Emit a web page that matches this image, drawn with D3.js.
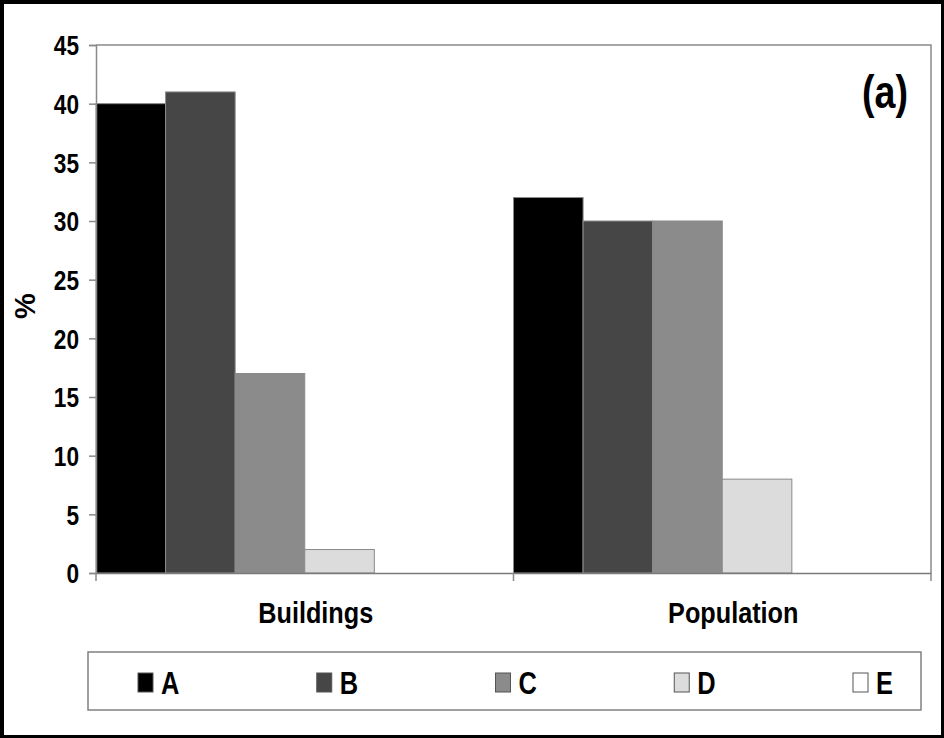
<!DOCTYPE html>
<html>
<head>
<meta charset="utf-8">
<script src="https://cdn.jsdelivr.net/npm/d3@7"></script>
<style>
  html, body { margin: 0; padding: 0; background: #000; }
  svg { display: block; }
  text { font-family: "Liberation Sans", Arial, Helvetica, sans-serif; font-weight: bold; fill: #000; }
</style>
</head>
<body>
<svg id="chart" width="944" height="738"></svg>
<script>
// Share of buildings and population per class (%)
const categories = ["Buildings", "Population"];
const seriesNames = ["A", "B", "C", "D", "E"];
const buildingsValues = [40, 41, 17, 2, 0];
const populationValues = [32, 30, 30, 8, 0];
const yTickValues = [0, 5, 10, 15, 20, 25, 30, 35, 40, 45];
const yAxisLabel = "%";
const panelLabel = "(a)";

const valuesByCategory = { Buildings: buildingsValues, Population: populationValues };
const fills = { A: "#000000", B: "#464646", C: "#8b8b8b", D: "#dcdcdc", E: "#ffffff" };

const W = 944, H = 738;
const plot = { left: 96, right: 931, top: 45, bottom: 573 };
const sx = 0.84; // condensed lettering

const svg = d3.select("#chart");

// black outer frame with white page
svg.append("rect").attr("x", 0).attr("y", 0).attr("width", W).attr("height", H).attr("fill", "#000");
svg.append("rect").attr("x", 4).attr("y", 4).attr("width", 937).attr("height", 731).attr("fill", "#fff");

const y = d3.scaleLinear().domain([0, 45]).range([plot.bottom, plot.top]);
const x = d3.scaleBand().domain(categories).range([plot.left, plot.right]).padding(0);
const xs = d3.scaleBand().domain(seriesNames).range([0, x.bandwidth() * 5 / 6]).padding(0);

// plot area frame (top and right edges)
svg.append("path")
  .attr("d", `M${plot.left},${plot.top}H${plot.right}V${plot.bottom}`)
  .attr("fill", "none").attr("stroke", "#8a8a8a").attr("stroke-width", 1.5);

// bars
const rows = categories.flatMap(c => seriesNames.map((s, i) => ({ cat: c, series: s, value: valuesByCategory[c][i] })));
svg.append("g").selectAll("rect").data(rows.filter(d => d.value > 0)).join("rect")
  .attr("x", d => x(d.cat) + xs(d.series))
  .attr("y", d => y(d.value))
  .attr("width", xs.bandwidth())
  .attr("height", d => y(0) - y(d.value))
  .attr("fill", d => fills[d.series])
  .attr("stroke", "#8a8a8a").attr("stroke-width", 1);

// y axis
const yAxis = svg.append("g").attr("transform", `translate(${plot.left},0)`)
  .call(d3.axisLeft(y).tickValues(yTickValues).tickSize(7).tickPadding(0));
yAxis.select(".domain").attr("stroke", "#8a8a8a").attr("stroke-width", 1.5);
yAxis.selectAll(".tick line").attr("stroke", "#8a8a8a").attr("stroke-width", 1.5);
yAxis.selectAll(".tick text")
  .attr("x", -17 / sx).attr("dy", "0.36em")
  .attr("transform", `scale(${sx},1)`)
  .attr("font-family", null)
  .style("font-size", "27px");

// x axis: baseline with ticks between categories
const xAxis = svg.append("g").attr("transform", `translate(0,${plot.bottom})`)
  .call(d3.axisBottom(x).tickValues([]).tickSizeOuter(0));
xAxis.select(".domain").attr("stroke", "#7a7a7a").attr("stroke-width", 1.5);
const boundaries = categories.map(c => x(c)).concat([x.range()[1]]);
xAxis.selectAll("line.sep").data(boundaries).join("line").attr("class", "sep")
  .attr("x1", d => d).attr("x2", d => d).attr("y1", 0).attr("y2", 8)
  .attr("stroke", "#8a8a8a").attr("stroke-width", 1.5);

// category labels
svg.append("g").selectAll("text").data(categories).join("text")
  .attr("transform", d => `translate(${x(d) + x.bandwidth() / 2 + 11},623) scale(0.87,1)`)
  .attr("text-anchor", "middle")
  .style("font-size", "29px")
  .text(d => d);

// y axis title
svg.append("text")
  .attr("transform", "translate(35,306) rotate(-90)")
  .attr("text-anchor", "middle")
  .style("font-size", "29px")
  .text(yAxisLabel);

// panel label
svg.append("text")
  .attr("transform", "translate(908,108) scale(0.8,1)")
  .attr("text-anchor", "end")
  .style("font-size", "47px")
  .text(panelLabel);

// legend
const legend = svg.append("g");
legend.append("rect").attr("x", 88).attr("y", 652).attr("width", 833).attr("height", 58)
  .attr("fill", "#fff").attr("stroke", "#808080").attr("stroke-width", 1.5);
const lx = d3.scalePoint().domain(seriesNames).range([138, 853]);
const items = legend.selectAll("g.item").data(seriesNames).join("g").attr("class", "item")
  .attr("transform", d => `translate(${lx(d)},0)`);
items.append("rect").attr("x", 0).attr("y", 673).attr("width", 15).attr("height", 19)
  .attr("fill", d => fills[d]).attr("stroke", "#555").attr("stroke-width", 1);
items.append("text")
  .attr("transform", `translate(23,694) scale(0.82,1)`)
  .style("font-size", "31px")
  .text(d => d);
</script>
</body>
</html>
